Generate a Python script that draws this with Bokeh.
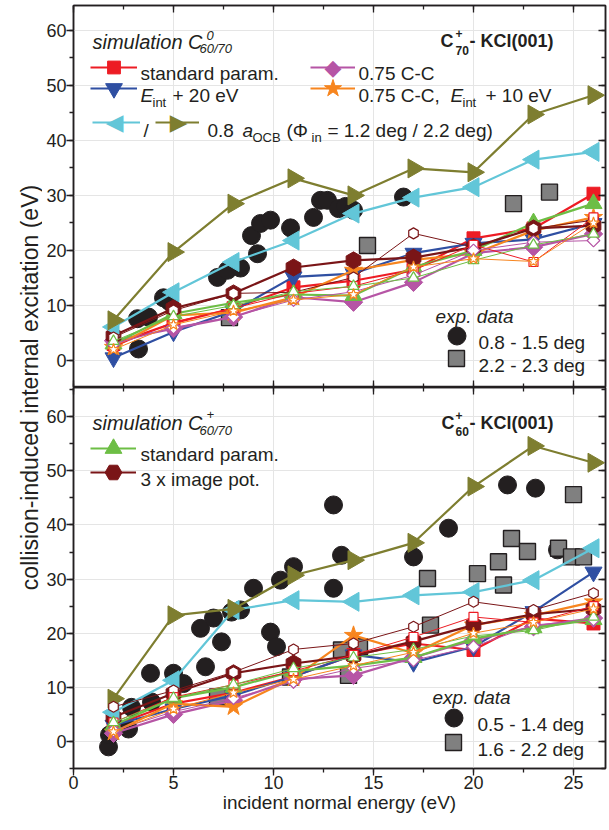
import math
from bokeh.plotting import figure
from bokeh.models import (ColumnDataSource, Range1d, LinearAxis, SingleIntervalTicker,
                          Label, Legend, LegendItem, CustomJSTickFormatter)
from bokeh.core.properties import value
from bokeh.layouts import row, column
from bokeh.embed import file_html
from bokeh.resources import INLINE

FONT = "Liberation Sans"
INK = "#231F20"
RED = "#ED1C24"
BLUE = "#2F4FA2"
CYAN = "#62C6D8"
OLIVE = "#7E7E30"
PURPLE = "#B655A5"
ORANGE = "#F7851E"
GREEN = "#6DBE45"
DRED = "#7A1517"
GRAY = "#808080"

# ---------------- data ----------------
x_sim = [2, 5, 8, 11, 14, 17, 20, 23, 26]

# top panel: C70+ - KCl(001)
top_std = [3.0, 6.8, 9.5, 13.3, 14.5, 16.5, 22.2, 24.0, 30.3]
top_eint20 = [0.5, 5.2, 9.0, 15.2, 15.8, 19.5, 21.3, 22.0, 24.9]
top_phi12 = [6.1, 12.4, 17.9, 21.8, 26.7, 29.6, 31.5, 36.5, 37.9]
top_phi22 = [7.3, 19.7, 28.5, 33.1, 30.0, 34.9, 34.2, 44.7, 48.2]
top_cc075 = [3.6, 5.8, 7.9, 11.5, 10.6, 14.2, 19.5, 20.6, 23.0]
top_cc075_e10 = [2.4, 8.2, 8.7, 11.5, 16.4, 18.3, 19.4, 23.6, 26.0]
top_p_std = [3.0, 8.5, 10.5, 12.0, 11.8, 17.0, 20.0, 25.0, 28.5]
top_p_img3 = [4.5, 9.5, 12.2, 16.9, 18.2, 18.7, 20.6, 24.0, 24.5]
top_o_std = [2.5, 7.0, 9.5, 12.2, 13.5, 16.4, 21.0, 17.9, 26.0]
top_o_cc075 = [3.0, 6.0, 8.0, 11.0, 12.5, 15.5, 20.0, 21.5, 21.8]
top_o_cc075_e10 = [2.0, 6.5, 9.0, 11.0, 12.0, 17.0, 18.5, 18.0, 25.0]
top_o_p_std = [3.5, 8.0, 10.0, 12.5, 13.5, 15.0, 18.2, 21.0, 23.0]
top_o_p_img3 = [4.2, 9.1, 12.2, 12.4, 15.1, 23.1, 20.6, 24.0, 25.5]

top_exp1_x = [3.25, 3.2, 3.75, 4.5, 4.8, 7.2, 7.7, 8.35, 8.9, 9.2, 9.35, 9.85, 10.85,
              12.0, 12.35, 12.7, 13.25, 13.6, 14.0, 16.5]
top_exp1_y = [2.1, 7.6, 7.9, 11.4, 10.7, 15.1, 16.4, 16.8, 22.7, 19.4, 24.9, 25.5, 24.1,
              26.0, 29.1, 29.1, 27.6, 28.0, 27.3, 29.7]
top_exp2_x = [7.8, 14.7, 22.0, 23.8]
top_exp2_y = [7.8, 20.9, 28.5, 30.6]

# bottom panel: C60+ - KCl(001)
bot_std = [3.0, 7.0, 9.0, 12.0, 16.0, 18.1, 16.9, 22.7, 21.8]
bot_eint20 = [3.0, 6.0, 8.5, 12.0, 16.0, 14.6, 17.5, 24.0, 31.3]
bot_phi12 = [5.4, 11.3, 24.3, 26.1, 25.8, 27.0, 27.6, 29.8, 35.7]
bot_phi22 = [7.9, 23.3, 24.5, 30.7, 33.5, 36.7, 47.1, 54.6, 51.5]
bot_cc075 = [1.5, 5.0, 7.6, 11.5, 12.2, 15.5, 18.7, 21.2, 22.8]
bot_cc075_e10 = [1.7, 7.0, 6.4, 11.7, 19.6, 16.3, 21.5, 23.3, 25.8]
bot_p_std = [3.0, 8.0, 10.0, 13.0, 14.0, 15.5, 19.0, 21.0, 22.5]
bot_p_img3 = [4.5, 8.9, 12.6, 14.4, 15.8, 18.5, 21.5, 23.5, 24.5]
bot_o_std = [3.5, 8.2, 10.5, 13.0, 16.0, 19.3, 23.0, 22.0, 25.0]
bot_o_cc075 = [2.0, 5.5, 8.0, 11.0, 13.5, 15.0, 17.5, 21.5, 22.5]
bot_o_cc075_e10 = [1.8, 6.0, 9.0, 11.5, 14.0, 16.5, 20.0, 22.0, 24.5]
bot_o_p_std = [3.5, 8.0, 10.5, 13.5, 15.5, 17.0, 19.5, 20.5, 23.0]
bot_o_p_img3 = [6.4, 9.4, 12.8, 17.0, 18.1, 21.2, 25.8, 24.3, 27.4]

bot_exp1_x = [1.75, 1.8, 2.75, 2.9, 3.9, 3.85, 5.0, 5.5, 6.35, 6.6, 7.0, 7.4, 7.9, 8.35,
              9.0, 9.85, 10.15, 10.35, 11.0, 13.0, 13.4, 13.0, 17.0, 18.75, 21.7, 23.1, 24.2]
bot_exp1_y = [-1.0, 1.2, 2.3, 6.3, 7.3, 12.6, 12.6, 10.7, 20.9, 13.8, 22.8, 18.4, 23.9, 24.3,
              28.3, 20.2, 17.5, 29.8, 32.3, 43.7, 34.4, 28.3, 34.1, 39.4, 47.4, 46.8, 35.4]
bot_exp2_x = [7.2, 10.85, 13.4, 14.3, 13.75, 17.7, 17.85, 20.2, 21.25, 21.5, 21.9, 22.7,
              24.25, 24.9, 25.5, 25.0]
bot_exp2_y = [8.2, 11.9, 16.9, 17.5, 12.2, 30.1, 21.5, 31.0, 33.2, 28.9, 37.5, 35.1,
              35.7, 34.1, 34.1, 45.6]

x_ticks_interval = 5
y_ticks_interval = 10

# ---------------- layout constants (page pixels) ----------------
STRIP_W = 42
FRAME_LEFT = 73
P1_TOP = 5
P1_FB = 387
P2_FB = 768
P2_BOTTOM_BORDER = 55
P1_H = P1_FB
P2_H = (P2_FB - P1_FB) + P2_BOTTOM_BORDER
PANEL_W = 608 - STRIP_W


def add_axis(p, side, interval, labels, t_in, t_out, m_in, m_out, axis_label=None):
    ax = LinearAxis(ticker=SingleIntervalTicker(interval=interval, num_minor_ticks=2))
    ax.axis_line_color = INK
    ax.axis_line_width = 1.5
    ax.major_tick_line_color = INK
    ax.minor_tick_line_color = INK
    ax.major_tick_line_width = 1.3
    ax.minor_tick_line_width = 1.3
    ax.major_tick_in, ax.major_tick_out = t_in, t_out
    ax.minor_tick_in, ax.minor_tick_out = m_in, m_out
    if labels:
        ax.major_label_text_font = FONT
        ax.major_label_text_font_size = "18px"
        ax.major_label_text_color = INK
        ax.major_label_standoff = 0
    else:
        ax.formatter = CustomJSTickFormatter(code="return ''")
        ax.major_label_text_font_size = "0px"
        ax.major_label_standoff = 0
    if axis_label:
        ax.axis_label = axis_label
        ax.axis_label_text_font = FONT
        ax.axis_label_text_font_size = "19px"
        ax.axis_label_text_font_style = "normal"
        ax.axis_label_text_color = INK
        ax.axis_label_standoff = 0
    p.add_layout(ax, side)
    return ax


def make_panel(height, ylim, top_border, bottom_border, bottom_labels):
    p = figure(width=PANEL_W, height=height, x_range=Range1d(0, 26.6), y_range=Range1d(*ylim),
               output_backend="svg", toolbar_location=None,
               x_axis_location=None, y_axis_location=None,
               min_border_left=FRAME_LEFT - STRIP_W, min_border_right=3,
               min_border_top=top_border, min_border_bottom=bottom_border)
    p.outline_line_color = INK
    p.outline_line_width = 1.5
    p.background_fill_color = "white"
    p.border_fill_color = "white"
    add_axis(p, "left", y_ticks_interval, True, 0, 7, 0, 4)
    add_axis(p, "right", y_ticks_interval, False, 7, 0, 4, 0)
    add_axis(p, "above", x_ticks_interval, False, 7, 0, 4, 0)
    if bottom_labels:
        add_axis(p, "below", x_ticks_interval, True, 0, 7, 0, 4,
                 axis_label="incident normal energy (eV)")
    else:
        add_axis(p, "below", x_ticks_interval, False, 7, 0, 4, 0)
    return p


def series(p, y, color, marker, size, angle=0.0, open_=False):
    src = ColumnDataSource(dict(x=x_sim, y=y))
    if open_:
        ln = p.line("x", "y", source=src, line_color=color, line_width=1.0)
        sc = p.scatter("x", "y", source=src, marker=marker, size=size, angle=angle,
                       fill_color="white", line_color=color, line_width=1.2)
    else:
        ln = p.line("x", "y", source=src, line_color=color, line_width=2.2)
        sc = p.scatter("x", "y", source=src, marker=marker, size=size, angle=angle,
                       fill_color=color, line_color=color, line_width=1)
    return [ln, sc]


def exp_points(p, xs, ys, kind):
    src = ColumnDataSource(dict(x=xs, y=ys))
    if kind == "circle":
        return [p.scatter("x", "y", source=src, marker="circle", size=18,
                          fill_color=INK, line_color=INK)]
    return [p.scatter("x", "y", source=src, marker="square", size=16,
                      fill_color=GRAY, line_color=INK, line_width=1.4)]


def swatch(p, renderers, cx, cy, w, msize, fb):
    h = msize / 0.4
    lg = Legend(items=[LegendItem(label=value(""), renderers=renderers)],
                location=(cx - FRAME_LEFT - w / 2.0, fb - cy - h / 2.0),
                glyph_width=int(round(w)), glyph_height=int(round(h)),
                padding=0, margin=0, spacing=0, label_standoff=0,
                label_width=0, label_height=0, label_text_font_size="0px",
                background_fill_alpha=0, border_line_alpha=0)
    p.add_layout(lg)


def sym(p, ch, cx, cy, fb, size, color):
    # legend marker drawn as a glyph character (rotated markers are not drawn rotated in legends)
    p.add_layout(Label(x=cx - FRAME_LEFT, y=fb - cy + 0.36 * size - 8, x_units="screen",
                       y_units="screen", text=ch, text_font="DejaVu Sans",
                       text_font_size=f"{size}px", text_color=color,
                       text_baseline="alphabetic", text_align="center"))


def txt(p, s, x, y, fb, size=19, style="normal"):
    p.add_layout(Label(x=x - FRAME_LEFT, y=fb - y, x_units="screen", y_units="screen",
                       text=s, text_font=FONT, text_font_size=f"{size}px",
                       text_font_style=style, text_color=INK,
                       text_baseline="alphabetic", text_align="left"))


def draw_panel(p, d):
    r = {}
    r["e1"] = exp_points(p, d["e1x"], d["e1y"], "circle")
    r["e2"] = exp_points(p, d["e2x"], d["e2y"], "square")
    r["std"] = series(p, d["std"], RED, "square", 13)
    r["eint"] = series(p, d["eint"], BLUE, "inverted_triangle", 17)
    r["cc"] = series(p, d["cc"], PURPLE, "square", 13, angle=math.pi / 4)
    r["cce"] = series(p, d["cce"], ORANGE, "star", 19)
    r["pstd"] = series(p, d["pstd"], GREEN, "triangle", 17)
    r["pimg"] = series(p, d["pimg"], DRED, "hex", 17, angle=math.pi / 2)
    r["phi12"] = series(p, d["phi12"], CYAN, "triangle", 19, angle=math.pi / 2)
    r["phi22"] = series(p, d["phi22"], OLIVE, "triangle", 19, angle=-math.pi / 2)
    series(p, d["o_pimg"], DRED, "hex", 11, angle=math.pi / 2, open_=True)
    series(p, d["o_std"], RED, "square", 9, open_=True)
    series(p, d["o_cc"], PURPLE, "square", 9, angle=math.pi / 4, open_=True)
    series(p, d["o_pstd"], GREEN, "triangle", 11, open_=True)
    series(p, d["o_cce"], ORANGE, "star", 12, open_=True)
    return r


# ---------------- panel 1 ----------------
p1 = make_panel(P1_H, (-4.9, 64.5), P1_TOP, 0, False)
r1 = draw_panel(p1, dict(std=top_std, eint=top_eint20, cc=top_cc075, cce=top_cc075_e10,
                         pstd=top_p_std, pimg=top_p_img3, phi12=top_phi12, phi22=top_phi22,
                         o_std=top_o_std, o_cc=top_o_cc075, o_cce=top_o_cc075_e10,
                         o_pstd=top_o_p_std, o_pimg=top_o_p_img3,
                         e1x=top_exp1_x, e1y=top_exp1_y, e2x=top_exp2_x, e2y=top_exp2_y))
fb = P1_FB
txt(p1, "simulation C", 92, 41, fb, 20, "italic")
txt(p1, "0", 206, 35, fb, 13, "italic")
txt(p1, "60/70", 199, 48, fb, 13, "italic")
txt(p1, "C", 440, 40.5, fb, 18, "bold")
txt(p1, "+", 455, 33, fb, 12, "bold")
txt(p1, "70", 455, 50, fb, 12, "bold")
txt(p1, " - KCl(001)", 469, 40.5, fb, 18, "bold")

swatch(p1, r1["std"], 113.5, 67, 47, 13, fb)
txt(p1, "standard param.", 140, 73, fb)
swatch(p1, r1["cc"][:1], 332.5, 67, 45, 13, fb)
sym(p1, "\u25c6", 332.5, 67, fb, 22, PURPLE)
txt(p1, "0.75 C-C", 358, 73, fb)

swatch(p1, r1["eint"], 113.5, 88, 47, 17, fb)
txt(p1, "E", 140, 94.5, fb, 19, "italic")
txt(p1, "int", 152, 102, fb, 13)
txt(p1, "+ 20 eV", 172, 94.5, fb)
swatch(p1, r1["cce"], 332.5, 88, 45, 19, fb)
txt(p1, "0.75 C-C,", 358, 94.5, fb)
txt(p1, "E", 450, 94.5, fb, 19, "italic")
txt(p1, "int", 462, 102, fb, 13)
txt(p1, "+ 10 eV", 485, 94.5, fb)

swatch(p1, r1["phi12"][:1], 116, 122, 48, 19, fb)
sym(p1, "\u25c0", 114, 122, fb, 23, CYAN)
txt(p1, "/", 143, 130, fb)
swatch(p1, r1["phi22"][:1], 177, 122, 44, 19, fb)
sym(p1, "\u25b6", 178, 122, fb, 23, OLIVE)
txt(p1, "0.8", 207, 130, fb)
txt(p1, "a", 242, 130, fb, 19, "italic")
txt(p1, "OCB", 252, 137, fb, 13)
txt(p1, "(\u03a6", 286, 130, fb)
txt(p1, "in", 311, 137, fb, 13)
txt(p1, "= 1.2 deg / 2.2 deg)", 327, 130, fb)

txt(p1, "exp. data", 435, 316, fb, 19, "italic")
swatch(p1, r1["e1"], 456, 335, 45, 18, fb)
txt(p1, "0.8 - 1.5 deg", 478, 341.5, fb)
swatch(p1, r1["e2"], 456, 358, 40, 16, fb)
txt(p1, "2.2 - 2.3 deg", 478, 364.5, fb)

# ---------------- panel 2 ----------------
p2 = make_panel(P2_H, (-5, 65.4), 0, P2_BOTTOM_BORDER, True)
r2 = draw_panel(p2, dict(std=bot_std, eint=bot_eint20, cc=bot_cc075, cce=bot_cc075_e10,
                         pstd=bot_p_std, pimg=bot_p_img3, phi12=bot_phi12, phi22=bot_phi22,
                         o_std=bot_o_std, o_cc=bot_o_cc075, o_cce=bot_o_cc075_e10,
                         o_pstd=bot_o_p_std, o_pimg=bot_o_p_img3,
                         e1x=bot_exp1_x, e1y=bot_exp1_y, e2x=bot_exp2_x, e2y=bot_exp2_y))
fb = P2_FB
txt(p2, "simulation C", 92, 422, fb, 20, "italic")
txt(p2, "+", 206, 414, fb, 13, "italic")
txt(p2, "60/70", 199, 430, fb, 13, "italic")
txt(p2, "C", 441, 422, fb, 18, "bold")
txt(p2, "+", 455, 414.5, fb, 12, "bold")
txt(p2, "60", 455, 430.5, fb, 12, "bold")
txt(p2, " - KCl(001)", 469, 422, fb, 18, "bold")

swatch(p2, r2["pstd"], 113, 448, 46, 17, fb)
txt(p2, "standard param.", 140, 454, fb)
swatch(p2, r2["pimg"], 113, 472, 46, 17, fb)
txt(p2, "3 x image pot.", 140, 478.5, fb)

txt(p2, "exp. data", 432, 697, fb, 19, "italic")
swatch(p2, r2["e1"], 453, 717, 45, 18, fb)
txt(p2, "0.5 - 1.4 deg", 477, 723.5, fb)
swatch(p2, r2["e2"], 453, 742, 40, 16, fb)
txt(p2, "1.6 - 2.2 deg", 477, 748.5, fb)

# ---------------- y-axis title strip ----------------
ylab = figure(width=STRIP_W, height=P1_H + P2_H, output_backend="svg", toolbar_location=None,
              x_axis_location=None, y_axis_location=None, min_border=0,
              x_range=Range1d(0, 1), y_range=Range1d(0, 1))
ylab.outline_line_color = None
ylab.grid.visible = False
ylab.add_layout(Label(x=29, y=(P1_H + P2_H) - 387, x_units="screen", y_units="screen",
                      text="collision-induced internal excitation (eV)",
                      text_font=FONT, text_font_size="23px",
                      text_color=INK, angle=math.pi / 2,
                      text_align="center", text_baseline="middle"))

layout = row(ylab, column(p1, p2, spacing=0), spacing=0)
open("out.html", "w").write(file_html(layout, INLINE))
